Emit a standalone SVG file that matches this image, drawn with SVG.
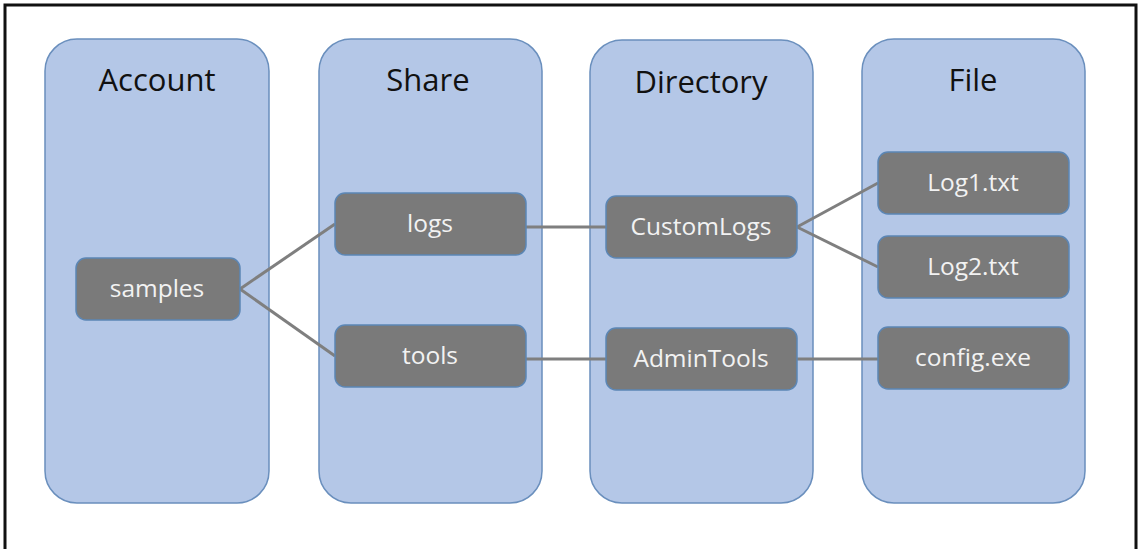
<svg xmlns="http://www.w3.org/2000/svg" width="1141" height="549" viewBox="0 0 1141 549">
<style>
.col{fill:#b4c7e7;stroke:#6a8fbd;stroke-width:1.5}
.ttl{font-family:"Open Sans","Liberation Sans",sans-serif;font-size:31px;fill:#111;text-anchor:middle}
.nd{fill:#7a7a7a;stroke:#5b86b5;stroke-width:1.5}
.lbl{font-family:"Open Sans","Liberation Sans",sans-serif;font-size:24.5px;fill:#f2f2f2;text-anchor:middle}
.cn{stroke:#7f7f7f;stroke-width:3;fill:none}
</style>
<rect x="0" y="0" width="1141" height="549" fill="#fff"/>
<rect x="5" y="5" width="1131" height="560" fill="none" stroke="#111" stroke-width="3"/>
<g id="col-account"><rect class="col" x="45" y="39" width="224" height="464" rx="32"/><text class="ttl" x="157" y="91">Account</text></g>
<g id="col-share"><rect class="col" x="319" y="39" width="223" height="464" rx="32"/><text class="ttl" x="428" y="91">Share</text></g>
<g id="col-directory"><rect class="col" x="590" y="40" width="223" height="463" rx="32"/><text class="ttl" x="701" y="93">Directory</text></g>
<g id="col-file"><rect class="col" x="862" y="39" width="223" height="464" rx="32"/><text class="ttl" x="973" y="91">File</text></g>
<g id="connectors">
<line class="cn" x1="240" y1="289" x2="335" y2="224"/>
<line class="cn" x1="240" y1="289" x2="335" y2="356"/>
<line class="cn" x1="526" y1="227" x2="606" y2="227"/>
<line class="cn" x1="526" y1="359" x2="606" y2="359"/>
<line class="cn" x1="797" y1="227" x2="878" y2="183"/>
<line class="cn" x1="797" y1="227" x2="878" y2="267"/>
<line class="cn" x1="797" y1="359" x2="878" y2="359"/>
</g>
<g id="n-samples"><rect class="nd" x="76" y="258" width="164" height="62" rx="10"/><text class="lbl" x="157" y="297">samples</text></g>
<g id="n-logs"><rect class="nd" x="335" y="193" width="191" height="62" rx="10"/><text class="lbl" x="430" y="232">logs</text></g>
<g id="n-tools"><rect class="nd" x="335" y="325" width="191" height="62" rx="10"/><text class="lbl" x="430" y="364">tools</text></g>
<g id="n-customlogs"><rect class="nd" x="606" y="196" width="191" height="62" rx="10"/><text class="lbl" x="701" y="235">CustomLogs</text></g>
<g id="n-admintools"><rect class="nd" x="606" y="328" width="191" height="62" rx="10"/><text class="lbl" x="701" y="367">AdminTools</text></g>
<g id="n-log1"><rect class="nd" x="878" y="152" width="191" height="62" rx="10"/><text class="lbl" x="973" y="191">Log1.txt</text></g>
<g id="n-log2"><rect class="nd" x="878" y="236" width="191" height="62" rx="10"/><text class="lbl" x="973" y="275">Log2.txt</text></g>
<g id="n-config"><rect class="nd" x="878" y="327" width="191" height="62" rx="10"/><text class="lbl" x="973" y="366">config.exe</text></g>
</svg>
